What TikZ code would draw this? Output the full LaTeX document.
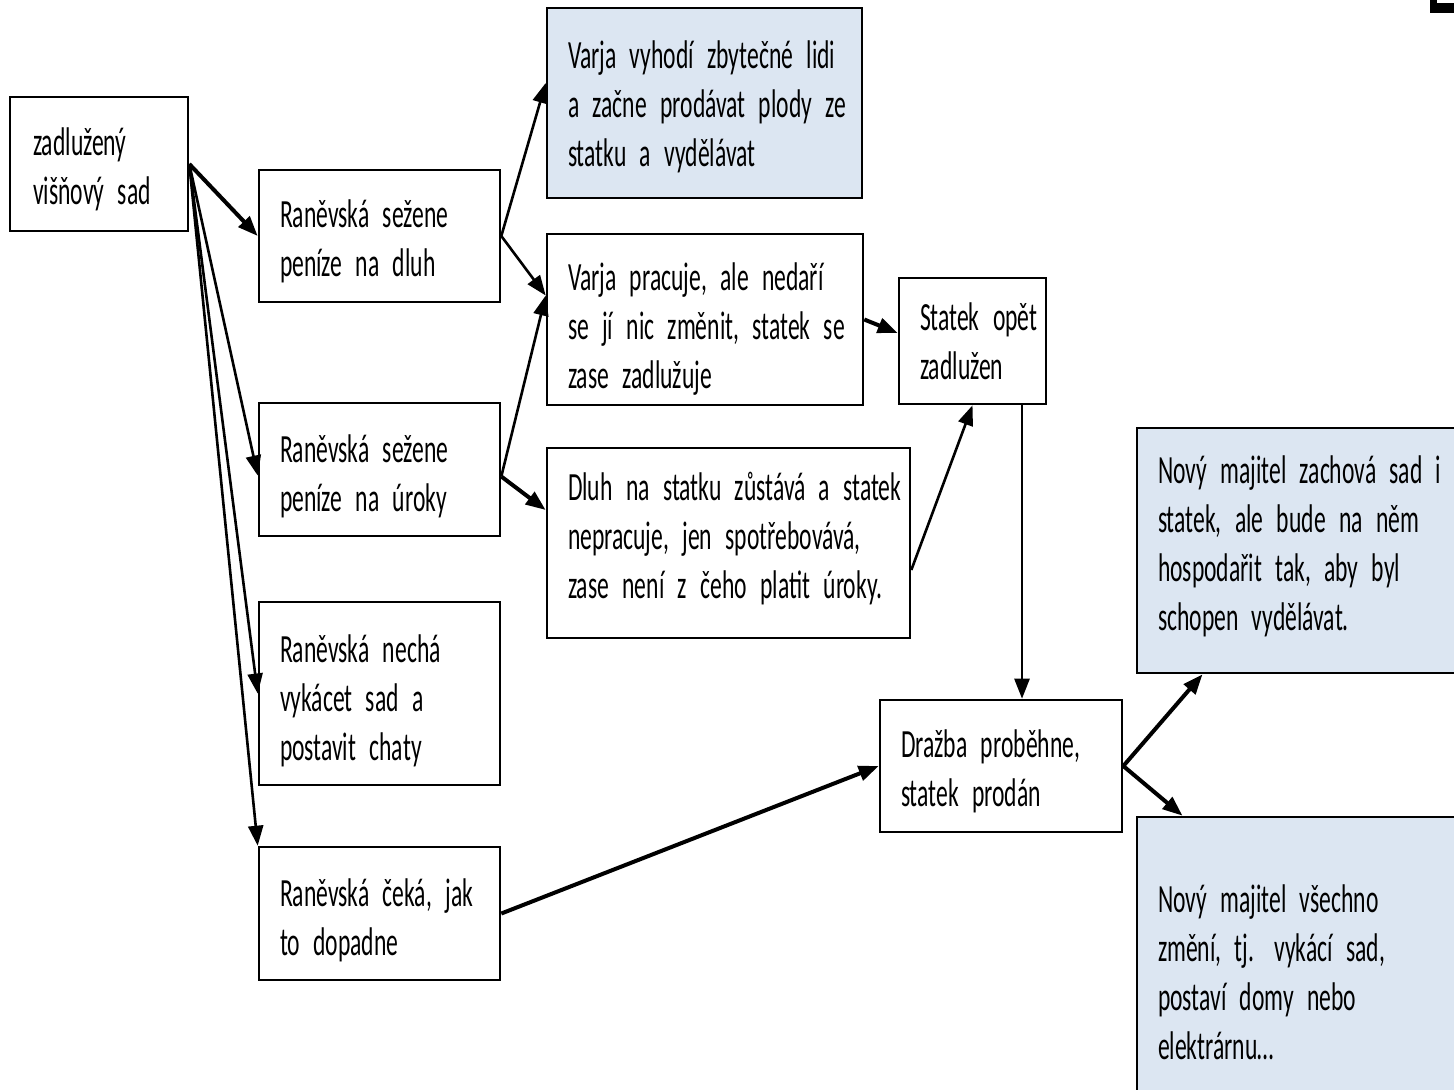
\documentclass[tikz,border=0pt]{standalone}
\usepackage{fontspec}
\setmainfont{Carlito}[FakeStretch=0.59]
\usetikzlibrary{arrows.meta}

\definecolor{goalblue}{RGB}{220,230,242}
\newcommand{\boxfont}{\fontsize{20}{24.5}\selectfont\spaceskip=1.6pt plus 1pt minus 0.3pt\relax}
\newcommand{\rows}[2][3pt]{\raisebox{-#1}[\height][\depth]{\begin{tabular}{@{}l@{}}#2\end{tabular}}}

\begin{document}
\begin{tikzpicture}[
    x=0.5pt, y=-0.5pt,
    every node/.style={draw, line width=1.3pt, align=left, inner xsep=10.5pt, inner ysep=3pt, font=\boxfont},
    goal/.style={fill=goalblue},
    arrow/.style={-{Triangle[length=10pt,width=7.5pt]}, line width=2pt},
    thin arrow/.style={-{Triangle[length=10pt,width=7.5pt]}, line width=1.3pt}
]
\clip (0,0) rectangle (1454,1089);
\fill (1430,0) rectangle (1454,13);
\fill[white] (1437,0) rectangle (1454,3);

% Nodes
\node (zadluzeny) [minimum width=89pt, minimum height=67pt, text width=66pt, inner xsep=11.5pt] at (99,164) {\rows{zadlužený\\višňový sad}};
\node (dluh) [minimum width=120.5pt, minimum height=66pt, text width=99.5pt] at (379.5,236) {\rows{Raněvská sežene\\peníze na dluh}};
\node (uroky) [minimum width=120.5pt, minimum height=66.5pt, text width=99.5pt] at (379.5,469.5) {\rows[4pt]{Raněvská sežene\\peníze na úroky}};
\node (chaty) [minimum width=120.5pt, minimum height=91.5pt, text width=99.5pt] at (379.5,693.5) {\rows[4pt]{Raněvská nechá\\vykácet sad a\\postavit chaty}};
\node (ceka) [minimum width=120.5pt, minimum height=66.5pt, text width=99.5pt] at (379.5,913.5) {\rows[4pt]{Raněvská čeká, jak\\to dopadne}};
\node (vyhodi) [goal, minimum width=157.5pt, minimum height=95pt, text width=136.5pt] at (704.5,103) {\rows[2.5pt]{Varja vyhodí zbytečné lidi\\a začne prodávat plody ze\\statku a vydělávat}};
\node (pracuje) [minimum width=158pt, minimum height=85.5pt, text width=137pt] at (705,319.5) {\rows[5pt]{Varja pracuje, ale nedaří\\se jí nic změnit, statek se\\zase zadlužuje}};
\node (spotreba) [minimum width=181.5pt, minimum height=95pt, text width=160.5pt] at (728.5,543) {\rows[-1.5pt]{Dluh na statku zůstává a statek\\nepracuje, jen spotřebovává,\\zase není z čeho platit úroky.}};
\node (zadluzen) [minimum width=73.5pt, minimum height=63pt, text width=52.5pt] at (972.5,341) {\rows[2pt]{Statek opět\\zadlužen}};
\node (drazba) [minimum width=121pt, minimum height=66pt, text width=100pt] at (1001,766) {\rows{Dražba proběhne,\\statek prodán}};
\node (zachova) [goal, minimum width=171.5pt, minimum height=122.5pt, text width=150.5pt] at (1308.5,550.5) {\rows[-1.5pt]{Nový majitel zachová sad i\\statek, ale bude na něm\\hospodařit tak, aby byl\\schopen vydělávat.}};
\node (zmeni) [goal, minimum width=171.5pt, minimum height=153pt, text width=150.5pt] at (1308.5,970) {\rows{Nový majitel všechno\\změní, tj. vykácí sad,\\postaví domy nebo\\elektrárnu…}};

% Arrows
\draw [arrow] (zadluzeny.east) -- (dluh.west);
\draw [thin arrow] (zadluzeny.east) -- ([yshift=-3pt]uroky.west);
\draw [thin arrow] (zadluzeny.east) -- (chaty.west);
\draw [thin arrow] (zadluzeny.east) -- (ceka.north west);
\draw [thin arrow] (dluh.east) -- ([yshift=10pt]vyhodi.west);
\draw [thin arrow] (dluh.east) -- ([yshift=12pt]pracuje.west);
\draw [thin arrow] ([yshift=-3.5pt]uroky.east) -- ([yshift=12pt]pracuje.west);
\draw [arrow] ([yshift=-3.5pt]uroky.east) -- ([yshift=16.5pt]spotreba.west);
\draw [arrow] (pracuje.east) -- ([yshift=4pt]zadluzen.west);
\draw [thin arrow] ([yshift=-13.5pt]spotreba.east) -- (zadluzen.south);
\draw [thin arrow] ([xshift=24.75pt]zadluzen.south) -- ([xshift=24.75pt]zadluzen.south |- drazba.north);
\draw [arrow] (ceka.east) -- (drazba.west);
\draw [arrow] (drazba.east) -- ([xshift=-53pt]zachova.south);
\draw [arrow] (drazba.east) -- ([xshift=-63pt]zmeni.north);

\end{tikzpicture}
\end{document}
